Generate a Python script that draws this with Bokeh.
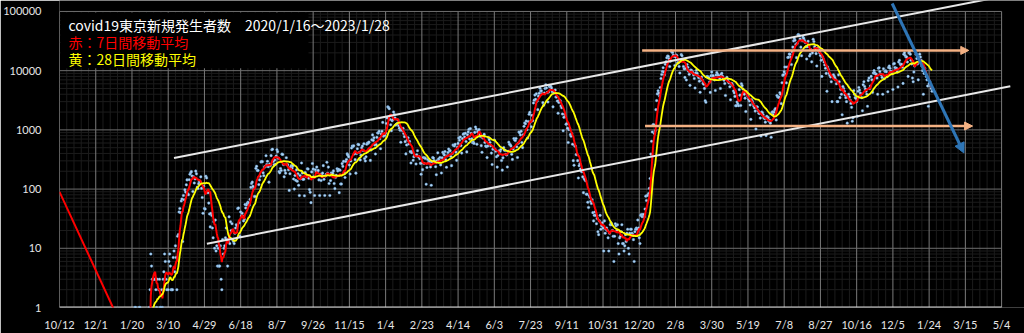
import numpy as np
import pandas as pd
from bokeh.plotting import figure
from bokeh.models import (Range1d, FixedTicker, PrintfTickFormatter, Arrow,
                          NormalHead, Label, BoxAnnotation)
from bokeh.embed import file_html
from bokeh.resources import INLINE

# ---------------- data ----------------
ORIGIN = "2019-10-12"          # first x tick
TICK_STEP_DAYS = 50
tick_labels = ["10/12", "12/1", "1/20", "3/10", "4/29", "6/18", "8/7", "9/26",
               "11/15", "1/4", "2/23", "4/14", "6/3", "7/23", "9/11", "10/31",
               "12/20", "2/8", "3/30", "5/19", "7/8", "8/27", "10/16", "12/5",
               "1/24", "3/15", "5/4"]
y_ticks = [1, 10, 100, 1000, 10000, 100000]
y_labels = ["1", "10", "100", "1000", "10000", "100000"]

title_text = "covid19東京新規発生者数　2020/1/16～2023/1/28"
legend_red = "赤：7日間移動平均"
legend_yellow = "黄：28日間移動平均"

# daily new cases, starting 2020-01-16
cases_2020 = [
    0, 0, 0, 0, 0, 0, 0, 0, 1, 1, 0, 0, 0, 0, 1, 1,
    0, 0, 0, 0, 0, 0, 0, 0, 0, 0, 0, 0, 1, 2, 8, 5, 3, 3, 3, 3, 3, 2, 1, 3, 0, 2, 3, 1, 1,
    2, 1, 3, 4, 8, 6, 3, 2, 0, 2, 6, 8, 5, 2, 2, 2, 7, 9, 4, 11, 7, 2, 16, 17, 41, 47, 40, 63, 68, 13, 78,
    66, 97, 89, 118, 143, 83, 80, 144, 178, 189, 197, 166, 91, 161, 127, 149, 201, 181, 107, 102, 123, 132, 134, 161, 103, 72, 39, 112, 47, 46,
    165, 154, 91, 87, 58, 38, 23, 39, 36, 22, 15, 28, 10, 30, 9, 11, 5, 10, 5, 5, 11, 3, 2, 14, 8, 10, 11, 15, 22, 14, 5,
    13, 34, 12, 28, 20, 26, 14, 13, 12, 18, 22, 25, 24, 47, 48, 27, 16, 41, 35, 39, 35, 29, 31, 55, 48, 54, 57, 60, 58, 54,
    67, 107, 124, 131, 111, 102, 75, 75, 224, 243, 206, 206, 119, 143, 165, 286, 293, 290, 188, 168, 237, 238, 366, 260, 295, 239, 131, 266, 250, 367, 463,
    472, 292, 258, 309, 263, 360, 462, 429, 331, 197, 188, 222, 206, 389, 385, 260, 161, 207, 186, 339, 258, 256, 212, 95, 182, 236, 250, 226, 247, 148, 100,
    170, 141, 211, 136, 181, 116, 78, 170, 149, 276, 187, 146, 146, 77, 191, 163, 172, 220, 218, 152, 98, 88, 59, 195, 270, 218, 161, 78, 212, 194,
    235, 196, 207, 143, 78, 177, 140, 172, 186, 249, 146, 78, 166, 177, 284, 185, 235, 124, 78, 139, 186, 185, 186, 203, 124, 102, 158, 171, 221, 203, 215,
    87, 209, 122, 122, 269, 242, 294, 189, 157, 293, 317, 393, 374, 352, 255, 180, 298, 493, 534, 522, 539, 391, 314, 186, 401, 481, 570, 561, 418, 311,
    372, 500, 533, 449, 584, 327, 299, 352, 572, 602, 595, 621, 480, 305, 460, 678, 822, 664, 736, 556, 392, 563, 748, 888, 884, 949, 708, 481, 856, 944, 1337,
]
cases_2021 = [
    783, 814, 816, 884, 1278, 1591, 2447, 2392, 2268, 1494, 1219, 970, 1433, 1502, 2001, 1809, 1592, 1204, 1240, 1274, 1471, 1175, 1070, 986, 618, 1026, 973, 1064, 868, 769, 633,
    393, 556, 676, 734, 577, 639, 429, 276, 412, 434, 307, 352, 369, 371, 266, 378, 445, 353, 353, 327, 272, 178, 275, 213, 340, 270, 337, 329,
    121, 232, 316, 279, 301, 293, 237, 116, 290, 340, 335, 304, 289, 239, 175, 300, 409, 323, 303, 342, 256, 187, 337, 420, 394, 376, 430, 313, 234, 364, 414,
    475, 440, 446, 355, 249, 399, 555, 545, 537, 570, 421, 306, 510, 591, 729, 667, 759, 543, 405, 711, 843, 861, 759, 876, 635, 425, 828, 925, 1027, 698,
    1050, 879, 708, 609, 621, 591, 907, 1121, 1032, 573, 925, 969, 1010, 854, 772, 542, 419, 732, 766, 843, 614, 535, 521, 340, 535, 743, 684, 614, 539, 405, 260,
    471, 487, 676, 472, 436, 351, 235, 369, 440, 439, 435, 467, 304, 209, 337, 501, 452, 453, 388, 376, 236, 435, 619, 570, 562, 534, 386, 317, 476, 714,
    673, 660, 716, 518, 342, 593, 920, 896, 822, 950, 614, 502, 830, 1149, 1308, 1271, 1410, 1008, 727, 1387, 1832, 1979, 1359, 1128, 1763, 1429, 2848, 3177, 3865, 3300, 4058,
    3058, 2195, 3709, 4166, 5042, 4515, 4566, 4066, 2884, 2612, 4200, 4989, 5773, 5094, 4295, 2962, 4377, 5386, 5534, 5405, 5074, 4392, 2447, 4220, 4228, 4704, 3581, 3581, 3081, 1915, 2909,
    3168, 3099, 2539, 2362, 1853, 968, 1629, 1834, 1675, 1242, 1273, 1067, 611, 1004, 1052, 831, 782, 862, 572, 302, 253, 537, 531, 382, 382, 302, 154, 248, 267, 218,
    200, 196, 161, 87, 149, 144, 138, 82, 82, 60, 49, 77, 72, 62, 57, 66, 40, 29, 36, 41, 36, 26, 32, 19, 17, 29, 36, 21, 24, 27, 22,
    9, 29, 18, 21, 22, 20, 15, 9, 18, 25, 27, 25, 20, 16, 6, 16, 26, 24, 20, 25, 12, 8, 15, 16, 19, 25, 12, 12, 9, 11,
    17, 13, 18, 21, 10, 8, 18, 21, 21, 18, 17, 14, 6, 19, 21, 22, 21, 30, 22, 15, 12, 36, 37, 34, 37, 37, 34, 46, 76, 64, 78,
]
cases_2022 = [
    79, 84, 103, 151, 390, 641, 922, 1224, 1223, 871, 962, 2198, 3124, 4051, 4561, 4172, 3719, 5185, 7377, 8638, 9699, 11227, 9468, 8503, 12813, 14086, 16538, 17631, 17433, 15895, 11751,
    14445, 21576, 20679, 20267, 18287, 17526, 12214, 17113, 18287, 17864, 13694, 13515, 11751, 9133, 14568, 18660, 17864, 14698, 11760, 10742, 7694, 10925, 6972, 12695, 11386, 9817, 8666, 5655,
    10213, 10169, 9496, 9193, 8479, 7389, 5098, 9152, 10145, 8994, 8097, 7634, 6652, 4311, 7446, 7834, 6912, 6112, 5894, 5014, 3102, 2920, 7846, 7982, 7810, 7597, 6436, 4294, 8225, 9520, 8226,
    8225, 7594, 6963, 4620, 8436, 9335, 8777, 8355, 8112, 7323, 5012, 8686, 9042, 8045, 7462, 6906, 6056, 3812, 7328, 7703, 7048, 6468, 6218, 5347, 3223, 6090, 6016, 5627, 4542, 4218,
    3678, 2557, 2558, 2955, 2733, 2558, 4778, 3860, 2586, 6012, 5582, 4897, 4228, 3984, 3436, 2040, 4149, 4096, 3688, 3277, 3073, 2635, 1506, 3233, 3045, 2782, 2528, 2363, 2075, 1036, 2457,
    2423, 2099, 1914, 1894, 1581, 787, 2000, 1950, 1800, 1600, 1550, 1350, 800, 1700, 1650, 1600, 1400, 1450, 1300, 750, 1963, 2013, 1822, 2000, 2186, 2285, 1466, 3803, 3621, 3546,
    3546, 4245, 3993, 2771, 6245, 8341, 8529, 9546, 11511, 8777, 6231, 11511, 16662, 16878, 19059, 18919, 16870, 12692, 21000, 25000, 31878, 34995, 32698, 27698, 16603, 29036, 40406, 40395, 38940, 34243, 24948,
    17900, 32258, 36814, 35053, 32430, 29924, 25283, 15697, 25422, 31413, 26000, 17700, 18919, 22538, 14095, 20000, 33844, 31072, 25444, 22538, 19386, 12000, 24000, 23000, 22000, 20000, 18000, 15000, 8000, 17000, 15500,
    14000, 12500, 11000, 9000, 4500, 11500, 10500, 9000, 8300, 7800, 6500, 3000, 8000, 8500, 8000, 7500, 7000, 6000, 3000, 3000, 8500, 6500, 3500, 4800, 4000, 1800, 5400, 5000, 4500, 3900,
    3500, 3000, 1300, 3600, 4000, 3600, 3200, 2800, 2400, 1400, 1600, 4600, 4000, 3500, 3400, 3000, 1700, 4500, 5200, 4700, 4200, 4000, 3500, 2100, 5800, 6500, 5400, 4900, 4500, 4000, 2500,
    6800, 7500, 5000, 5500, 8000, 7000, 4300, 9100, 10000, 9200, 8800, 8700, 7500, 4000, 11000, 11200, 9700, 8800, 8500, 7700, 4000, 10800, 7300, 9700, 10000, 9600, 7900, 4400, 11300, 12000,
    11000, 9800, 9600, 8900, 4800, 13000, 13200, 11300, 10600, 11000, 9500, 5300, 14000, 15000, 13000, 12600, 12800, 11400, 6100, 19000, 20000, 18000, 17000, 17000, 14000, 8000, 20000, 21000, 19000, 15000, 13000,
]
cases_2023 = [
    7500, 6500, 9500, 12000, 21000, 19000, 16000, 13000, 7000, 14000, 19000, 17000, 15000, 12000, 10000, 4000, 9000, 11000, 9500, 8000, 7000, 5500, 2500, 6000, 6500, 5500, 5000, 4500,
]

# stray red segment at the far left (days from ORIGIN, value)
stray_red_days = [0, 110]
stray_red_vals = [90, 0.11]

# hand-drawn channel lines and arrows (days from ORIGIN, value)
upper_channel_days = [158, 1303]
upper_channel_vals = [335, 181700]
lower_channel_days = [203.4, 1312]
lower_channel_vals = [11.9, 5460]
orange_top_days = [804, 1254.7]
orange_top_val = 22000
orange_bottom_days = [808, 1260]
orange_bottom_val = 1160
blue_arrow_days = [1149, 1248]
blue_arrow_vals = [136400, 407]

# ---------------- derived series ----------------
origin = pd.Timestamp(ORIGIN)


def day_index(start, n):
    return (pd.date_range(start, periods=n) - origin).days.to_numpy()


days = np.concatenate([
    day_index("2020-01-16", len(cases_2020)),
    day_index("2021-01-01", len(cases_2021)),
    day_index("2022-01-01", len(cases_2022)),
    day_index("2023-01-01", len(cases_2023)),
]).astype(float)
cases = np.array(cases_2020 + cases_2021 + cases_2022 + cases_2023, dtype=float)
s = pd.Series(cases)
ma7 = s.rolling(7).mean().to_numpy()
ma28 = s.rolling(28).mean().to_numpy()
ma7 = np.where(ma7 > 0, ma7, np.nan)
ma28 = np.where(ma28 > 0, ma28, np.nan)
pos = cases > 0

tick_days = [i * TICK_STEP_DAYS for i in range(len(tick_labels))]
last_day = tick_days[-1]

# ---------------- layout geometry ----------------
W, H = 1024, 333
LEFT, BOTTOM = 55, 25
FRAME_W = W - LEFT
FRAME_H = H - BOTTOM
PX_PER_DAY = 946 / last_day
PX_PER_DECADE = 59.4
x_end = FRAME_W / PX_PER_DAY
y_top = 10 ** (FRAME_H / PX_PER_DECADE)

p = figure(width=W, height=H, y_axis_type="log",
           x_range=Range1d(0, x_end), y_range=Range1d(1, y_top),
           output_backend="svg", toolbar_location=None, title=None,
           background_fill_color="black", border_fill_color="black",
           outline_line_color=None,
           min_border_left=LEFT, min_border_right=0, min_border_top=0,
           min_border_bottom=BOTTOM)
p.grid.visible = False

# axes: labels only
p.xaxis.ticker = FixedTicker(ticks=tick_days, minor_ticks=[])
p.xaxis.major_label_overrides = {d: lab for d, lab in zip(tick_days, tick_labels)}
p.yaxis.ticker = FixedTicker(ticks=y_ticks, minor_ticks=[])
p.yaxis.formatter = PrintfTickFormatter(format="%d")
p.yaxis.major_label_overrides = {v: lab for v, lab in zip(y_ticks, y_labels)}
for ax in (p.xaxis, p.yaxis):
    ax.axis_line_color = None
    ax.major_tick_line_color = None
    ax.minor_tick_line_color = None
    ax.major_label_text_color = "#e6e6e6"
    ax.major_label_text_font = "Lato"
    ax.major_label_text_font_size = "11px"
p.xaxis.major_label_standoff = 4
p.yaxis.major_label_standoff = 12

# grid lines (Excel style): minor, then major
minor_days = [d for d in range(10, last_day, 10) if d % TICK_STEP_DAYS]
minor_vals = [k * 10 ** e for e in range(0, 5) for k in range(2, 10)]
p.segment(x0=minor_days, y0=1, x1=minor_days, y1=y_ticks[-1], line_color="#1c1c1c", line_width=1)
p.segment(x0=0, y0=minor_vals, x1=last_day, y1=minor_vals, line_color="#1c1c1c", line_width=1)
p.segment(x0=tick_days, y0=1, x1=tick_days, y1=y_ticks[-1], line_color="#7a7a7a", line_width=1)
p.segment(x0=0, y0=y_ticks[1:], x1=last_day, y1=y_ticks[1:], line_color="#6e6e6e", line_width=1)
p.segment(x0=[0], y0=[1], x1=[last_day], y1=[1], line_color="#dcdcdc", line_width=2)

# daily points
p.scatter(days[pos], cases[pos], size=2.6, marker="circle",
          fill_color="#b4d6f2", line_color="#5a9ad6", line_width=0.4)

# moving averages
p.line(stray_red_days, stray_red_vals, line_color="#ff0000", line_width=2)
p.line(days, ma7, line_color="#ff0000", line_width=2)
p.line(days, ma28, line_color="#ffff00", line_width=1.8)

# channel lines
p.line(upper_channel_days, upper_channel_vals, line_color="#e8e8e8", line_width=2)
p.line(lower_channel_days, lower_channel_vals, line_color="#e8e8e8", line_width=2)

# arrows
orange = "#f4b183"
for dd, vv in ((orange_top_days, orange_top_val), (orange_bottom_days, orange_bottom_val)):
    p.add_layout(Arrow(end=NormalHead(size=8, fill_color=orange, line_color=orange),
                       x_start=dd[0], y_start=vv, x_end=dd[1], y_end=vv,
                       line_color=orange, line_width=2.5))
blue = "#2e75b6"
p.add_layout(Arrow(end=NormalHead(size=10, fill_color=blue, line_color=blue),
                   x_start=blue_arrow_days[0], y_start=blue_arrow_vals[0],
                   x_end=blue_arrow_days[1], y_end=blue_arrow_vals[1],
                   line_color=blue, line_width=3))


# title box and texts (positions given in pixels, converted to data)
def px_day(px):
    return (px - LEFT) / PX_PER_DAY


def px_val(py):
    return 10 ** ((FRAME_H - py) / PX_PER_DECADE)


p.add_layout(BoxAnnotation(left=px_day(56), right=px_day(305), top=px_val(12), bottom=px_val(68),
                           fill_color="black", fill_alpha=1.0, line_color=None))
for txt, col, py in ((title_text, "#ffffff", 25), (legend_red, "#ff0000", 42), (legend_yellow, "#ffff00", 59)):
    p.add_layout(Label(x=px_day(64), y=px_val(py), text=txt, text_color=col,
                       text_font="Noto Sans CJK JP", text_font_size="14px",
                       text_baseline="middle", text_align="left"))

open("out.html", "w").write(file_html(p, INLINE))
